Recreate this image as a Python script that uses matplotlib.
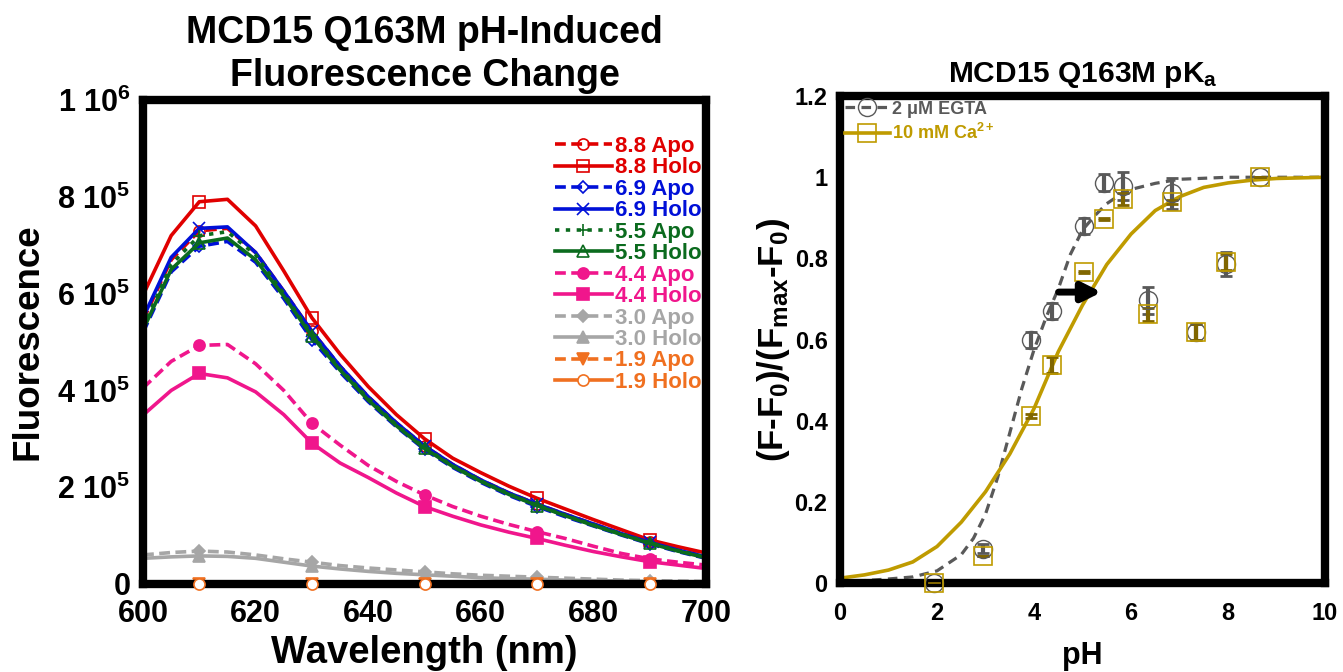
import matplotlib
matplotlib.use("Agg")
import matplotlib.pyplot as plt
import matplotlib.patheffects as pe
import numpy as np

plt.rcParams.update({
    "font.family": ["Liberation Sans", "DejaVu Sans"],
    "font.weight": "bold",
    "axes.labelweight": "bold",
    "axes.titleweight": "bold",
    "mathtext.fontset": "custom",
    "mathtext.rm": "Liberation Sans:bold",
    "mathtext.bf": "Liberation Sans:bold",
    "mathtext.it": "Liberation Sans:bold",
    "mathtext.default": "bf",
})

# ---- left panel: emission spectra (values in units of 1e5) ----
wavelength = np.arange(600, 705, 5)
marker_idx = slice(2, None, 4)  # 610, 630, 650, 670, 690 nm

apo_88 = [5.45, 6.7, 7.3, 7.35, 6.85, 6.05, 5.22, 4.5, 3.87, 3.33, 2.85,
          2.47, 2.15, 1.88, 1.65, 1.44, 1.24, 1.04, 0.86, 0.7, 0.57]
holo_88 = [5.97, 7.2, 7.9, 7.95, 7.4, 6.47, 5.5, 4.75, 4.08, 3.5, 3.0,
           2.6, 2.3, 2.02, 1.77, 1.55, 1.33, 1.12, 0.91, 0.77, 0.64]
apo_69 = [5.2, 6.45, 6.98, 7.08, 6.65, 5.9, 5.05, 4.38, 3.77, 3.25, 2.78,
          2.41, 2.1, 1.83, 1.6, 1.39, 1.2, 1.01, 0.83, 0.67, 0.53]
holo_69 = [5.5, 6.75, 7.35, 7.38, 6.85, 6.05, 5.22, 4.5, 3.87, 3.33, 2.85,
           2.47, 2.15, 1.88, 1.65, 1.44, 1.24, 1.04, 0.86, 0.7, 0.56]
apo_55 = [5.3, 6.6, 7.2, 7.28, 6.8, 6.0, 5.15, 4.45, 3.83, 3.29, 2.82,
          2.44, 2.13, 1.86, 1.63, 1.42, 1.22, 1.03, 0.85, 0.69, 0.55]
holo_55 = [5.25, 6.5, 7.05, 7.15, 6.7, 5.95, 5.12, 4.42, 3.8, 3.27, 2.8,
           2.43, 2.12, 1.85, 1.62, 1.41, 1.21, 1.02, 0.84, 0.68, 0.54]
apo_44 = [4.05, 4.6, 4.93, 4.95, 4.55, 4.0, 3.32, 2.87, 2.45, 2.12, 1.84,
          1.6, 1.4, 1.23, 1.08, 0.94, 0.78, 0.63, 0.52, 0.45, 0.39]
holo_44 = [3.49, 4.0, 4.35, 4.26, 3.97, 3.5, 2.91, 2.5, 2.2, 1.88, 1.6,
           1.4, 1.22, 1.07, 0.94, 0.8, 0.67, 0.56, 0.46, 0.39, 0.32]
apo_30 = [0.6, 0.65, 0.68, 0.66, 0.6, 0.52, 0.45, 0.38, 0.33, 0.29, 0.25,
          0.21, 0.18, 0.16, 0.14, 0.12, 0.1, 0.08, 0.07, 0.06, 0.05]
holo_30 = [0.53, 0.56, 0.58, 0.57, 0.53, 0.45, 0.37, 0.31, 0.26, 0.22, 0.19,
           0.16, 0.13, 0.11, 0.1, 0.08, 0.07, 0.06, 0.05, 0.04, 0.04]
apo_19 = [0.0] * 21
holo_19 = [0.0] * 21

spectra = [
    ("8.8 Apo", apo_88, "#E00000", (0, (3, 1.5)), "o", "none"),
    ("8.8 Holo", holo_88, "#E00000", "-", "s", "none"),
    ("6.9 Apo", apo_69, "#0010D8", (0, (3, 1.5)), "D", "none"),
    ("6.9 Holo", holo_69, "#0010D8", "-", "x", "#0010D8"),
    ("5.5 Apo", apo_55, "#0B6B1E", (0, (1.2, 1.8)), "+", "#0B6B1E"),
    ("5.5 Holo", holo_55, "#0B6B1E", "-", "^", "none"),
    ("4.4 Apo", apo_44, "#F0168C", (0, (3, 1.5)), "o", "#F0168C"),
    ("4.4 Holo", holo_44, "#F0168C", "-", "s", "#F0168C"),
    ("3.0 Apo", apo_30, "#A6A6A6", (0, (3, 1.5)), "D", "#A6A6A6"),
    ("3.0 Holo", holo_30, "#A6A6A6", "-", "^", "#A6A6A6"),
    ("1.9 Apo", apo_19, "#F07020", (0, (3, 1.5)), "v", "#F07020"),
    ("1.9 Holo", holo_19, "#F07020", "-", "o", "white"),
]

# ---- right panel: pKa titration ----
ph = [1.94, 2.94, 3.94, 4.38, 5.04, 5.45, 5.84, 6.34, 6.85, 7.34, 7.95, 8.65]
egta = [0.0, 0.085, 0.598, 0.671, 0.88, 0.987, 0.978, 0.697, 0.96, 0.619, 0.786, 1.0]
egta_err = [0.0, 0.01, 0.02, 0.02, 0.02, 0.022, 0.034, 0.033, 0.038, 0.02, 0.029, 0.0]
ca = [0.0, 0.066, 0.411, 0.537, 0.767, 0.897, 0.947, 0.662, 0.939, 0.619, 0.791, 1.0]
ca_err = [0.0, 0.0, 0.005, 0.02, 0.003, 0.003, 0.015, 0.016, 0.004, 0.02, 0.02, 0.0]

fit_ph_egta = [0, 0.5, 1.0, 1.5, 2.0, 2.5, 2.75, 3.0, 3.25, 3.5, 3.75, 4.0, 4.25,
               4.5, 4.75, 5.0, 5.25, 5.5, 5.75, 6.0, 6.5, 7.0, 8.0, 10.0]
fit_egta = [0.004, 0.006, 0.01, 0.015, 0.03, 0.07, 0.11, 0.17, 0.26, 0.37, 0.48,
            0.575, 0.655, 0.725, 0.81, 0.87, 0.905, 0.935, 0.955, 0.97, 0.985,
            0.995, 1.0, 1.0]
fit_ph_ca = [0, 0.5, 1.0, 1.5, 2.0, 2.5, 3.0, 3.5, 4.0, 4.5, 5.0, 5.5, 6.0,
             6.5, 7.0, 7.5, 8.0, 8.5, 9.0, 10.0]
fit_ca = [0.012, 0.02, 0.032, 0.052, 0.09, 0.15, 0.225, 0.318, 0.43, 0.57,
          0.685, 0.785, 0.86, 0.918, 0.952, 0.975, 0.986, 0.993, 0.997, 1.0]

gray = "#595959"
gold = "#BF9B00"

fig = plt.figure(figsize=(13.43, 6.72), dpi=100)
ax1 = fig.add_axes([0.1065, 0.131, 0.4192, 0.720])
ax2 = fig.add_axes([0.6255, 0.1324, 0.3611, 0.7246])

for label, vals, col, ls, mk, mfc in spectra:
    ax1.plot(wavelength, np.array(vals) * 1e5, color=col, ls=ls, lw=2.6,
             marker=mk, markevery=marker_idx, ms=8 if mk != "D" else 6,
             mfc=mfc, mec=col, mew=1.2, label=label, zorder=2)

# open circles of the pH 1.9 holo trace sit on top of the frame
ax1.plot(wavelength[marker_idx], np.array(holo_19)[marker_idx] * 1e5, ls="none",
         marker="o", ms=8, mfc="white", mec="#F07020", mew=1.2, clip_on=False,
         zorder=5)

ax1.set_xlim(600, 700)
ax1.set_ylim(0, 1e6)
ax1.set_xticks(np.arange(600, 701, 20))
ax1.set_yticks([0, 2e5, 4e5, 6e5, 8e5, 1e6])
ax1.set_yticklabels(["0", "2 10$^5$", "4 10$^5$", "6 10$^5$", "8 10$^5$", "1 10$^6$"])
ax1.tick_params(length=0, labelsize=22)
ax1.tick_params(axis="x", pad=11)
ax1.tick_params(axis="y", pad=9)
ax1.set_xlabel("Wavelength (nm)", fontsize=27.5)
ax1.set_ylabel("Fluorescence", fontsize=26.5)
ax1.xaxis.set_label_coords(0.5, -0.105)
ax1.yaxis.set_label_coords(-0.174, 0.5)
ax1.set_title("MCD15 Q163M pH-Induced\nFluorescence Change", fontsize=27, pad=10,
              linespacing=1.25)
ax1.legend(loc="upper right", bbox_to_anchor=(1.0, 0.935), frameon=False,
           fontsize=16, labelcolor="linecolor", handlelength=2.55,
           labelspacing=0.02, handletextpad=0.15, borderpad=0.1,
           borderaxespad=0.1, numpoints=1)

ax2.plot(fit_ph_egta, fit_egta, color=gray, ls=(0, (3, 2)), lw=2.3, zorder=2)
ax2.plot(fit_ph_ca, fit_ca, color=gold, ls="-", lw=2.6, zorder=2)
ax2.errorbar(ph, egta, yerr=egta_err, fmt="none", ecolor=gray, elinewidth=3,
             capsize=4, capthick=2, zorder=3)
ax2.errorbar(ph, ca, yerr=ca_err, fmt="none", ecolor="#806600", elinewidth=3,
             capsize=4, capthick=2, zorder=3)
ax2.plot(ph, egta, ls="none", marker="o", ms=13, mfc="none", mec=gray, mew=1,
         zorder=4, clip_on=False)
ax2.plot(ph, ca, ls="none", marker="s", ms=13, mfc="none", mec=gold, mew=1.2,
         zorder=4, clip_on=False)

# legend proxies
ax2.plot([], [], color=gray, ls=(0, (3, 2)), lw=2.3, marker="o", ms=13,
         mfc="none", mec=gray, mew=1, label="2 \u03bcM EGTA")
ax2.plot([], [], color=gold, ls="-", lw=2.6, marker="s", ms=13,
         mfc="none", mec=gold, mew=1.2, label="10 mM Ca$^{2+}$")
ax2.legend(loc="upper left", frameon=False, fontsize=13, labelcolor="linecolor",
           handlelength=2.5, handletextpad=0.15, borderpad=0.15, borderaxespad=0.1,
           labelspacing=0.3, numpoints=1)

ax2.annotate("", xy=(5.45, 0.717), xytext=(4.45, 0.717),
             arrowprops=dict(arrowstyle="-|>", lw=5, color="black",
                             mutation_scale=28,
                             path_effects=[pe.SimplePatchShadow(offset=(2, -2), alpha=0.3),
                                           pe.Normal()]),
             zorder=6)

ax2.set_xlim(0, 10)
ax2.set_ylim(0, 1.2)
ax2.set_xticks(np.arange(0, 11, 2))
ax2.set_yticks(np.arange(0, 1.21, 0.2))
ax2.set_yticklabels(["0", "0.2", "0.4", "0.6", "0.8", "1", "1.2"])
ax2.tick_params(length=0, labelsize=17)
ax2.tick_params(axis="x", pad=14)
ax2.tick_params(axis="y", pad=9)
ax2.set_xlabel("pH", fontsize=22)
ax2.set_ylabel("(F-F$_0$)/(F$_{max}$-F$_0$)", fontsize=25)
ax2.xaxis.set_label_coords(0.5, -0.119)
ax2.yaxis.set_label_coords(-0.1, 0.5)
ax2.set_title("MCD15 Q163M pK$_a$", fontsize=21.5, pad=10)

for ax in (ax1, ax2):
    for sp in ax.spines.values():
        sp.set_linewidth(6)
        sp.set_color("black")

fig.savefig("out.png", dpi=100)
